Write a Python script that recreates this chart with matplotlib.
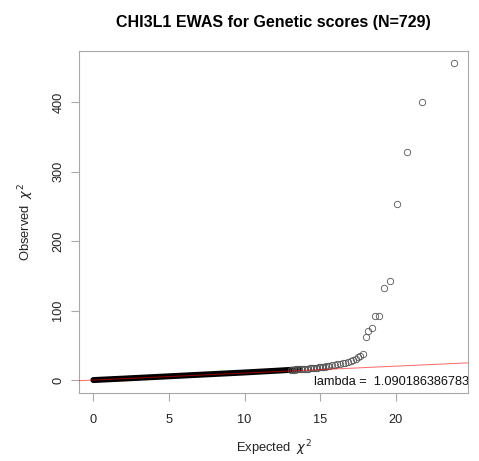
import numpy as np
import matplotlib
matplotlib.use('Agg')
import matplotlib.pyplot as plt

plt.rcParams['font.family'] = ['Liberation Sans', 'DejaVu Sans']
plt.rcParams['mathtext.fontset'] = 'dejavusans'

# ======== data ======================================

# dense bulk of the QQ curve (expected vs observed chi2)
bulk_expected = [0, 1, 2, 3, 4, 5, 6, 7, 8, 9, 10, 11, 12, 13, 13.6]
bulk_observed = [0, 1.05, 2.1, 3.2, 4.3, 5.4, 6.5, 7.6, 8.7, 9.8, 10.9, 12.1, 13.3, 14.6, 15.5]

# tail, where single circles can be seen
tail_expected = [13.1, 13.2, 13.3, 13.4, 13.5, 13.6, 13.7, 13.8, 13.9, 14.0,
                 14.1, 14.2, 14.3, 14.4, 14.5, 14.6, 14.7, 14.8, 14.9, 15.0,
                 15.1, 15.2, 15.3, 15.4, 15.5, 15.6, 15.79, 15.96,
                 16.14, 16.32, 16.5, 16.67, 16.85, 17.03, 17.2, 17.35, 17.5,
                 17.65, 17.83, 18.0, 18.18, 18.4, 18.64, 18.9, 19.22, 19.62,
                 20.1, 20.72, 21.74, 23.82]
tail_observed = [14.7, 14.9, 15.0, 15.2, 15.3, 15.5, 15.6, 15.8, 16.0, 16.2,
                 16.4, 16.6, 16.8, 17.0, 17.2, 17.5, 17.7, 18.0, 18.2, 18.5,
                 18.8, 19.1, 19.4, 19.7, 20.0, 20.4, 21.2, 21.6,
                 22.6, 23.0, 24.1, 24.9, 25.9, 27.4, 28.8, 30.7, 32.7,
                 34.6, 37.5, 61.5, 70.0, 74.5, 92.0, 92.0, 132.0, 142.7,
                 253.6, 328.0, 400.0, 456.0]

lambda_text = 'lambda =  1.0901863867835'

x_ticks = [0, 5, 10, 15, 20]
y_ticks = [0, 100, 200, 300, 400]

# ======== plot =================

fig = plt.figure(figsize=(4.79, 4.61), dpi=100)
ax = fig.add_axes([0.1649, 0.1482, 0.977 - 0.1649, 0.8894 - 0.1482])

ax.plot(bulk_expected, bulk_observed, color='black', lw=4.3,
        solid_capstyle='round', zorder=2)
ax.plot(tail_expected, tail_observed, linestyle='none', marker='o',
        markersize=4.6, markerfacecolor='none', markeredgecolor='#555555',
        markeredgewidth=0.6, zorder=3)

lim_x = (-0.95, 24.77)
ax.plot(lim_x, lim_x, color='red', lw=0.7, alpha=0.6, zorder=4)

ax.text(14.62, -2.5, lambda_text, ha='left', va='center', fontsize=9.2,
        color='#111111', clip_on=True, zorder=5)

ax.set_xlim(lim_x)
ax.set_ylim(-18.2, 474)
ax.set_xticks(x_ticks)
ax.set_yticks(y_ticks)
ax.set_yticklabels([str(v) for v in y_ticks], rotation=90, va='center')

for s in ax.spines.values():
    s.set_color('#a8a8a8')
    s.set_linewidth(0.8)
ax.tick_params(length=5.5, width=0.8, color='#a8a8a8', labelsize=9.2,
               labelcolor='#222222')
ax.tick_params(axis='x', pad=10)
ax.tick_params(axis='y', pad=5)

ax.set_xlabel(r'Expected  $\chi^2$', fontsize=9.3, color='#222222', labelpad=8.5)
ax.set_ylabel(r'Observed  $\chi^2$', fontsize=9.3, color='#222222', labelpad=12)
ax.set_title('CHI3L1 EWAS for Genetic scores (N=729)', fontsize=11.5,
             fontweight='bold', pad=17)

fig.savefig('out.png', dpi=100)
